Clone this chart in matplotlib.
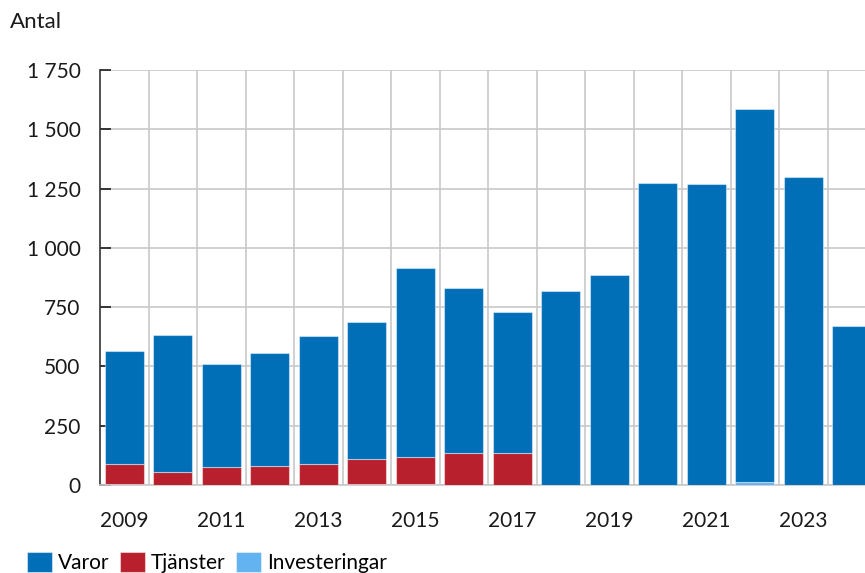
import numpy as np
import matplotlib as mpl
import matplotlib.pyplot as plt
from matplotlib.ticker import FuncFormatter, MultipleLocator

mpl.rcParams['font.family'] = ['Lato', 'DejaVu Sans']

years = list(range(2009, 2025))
varor = [476, 580, 433, 479, 539, 578, 798, 694, 593, 818, 886, 1272, 1270, 1573, 1297, 670]
tjanster = [86, 51, 77, 78, 89, 106, 114, 137, 137, 0, 0, 0, 0, 0, 0, 0]
investeringar = [3, 2, 0, 0, 0, 3, 3, 0, 0, 0, 0, 2, 0, 13, 2, 1]

c_var = '#006fb8'
c_tja = '#b8202d'
c_inv = '#62b3ef'

fig = plt.figure(figsize=(8.65, 5.73), dpi=100)
ax = fig.add_axes([0.1156, 0.1536, 0.8844, 0.7242])

x = np.arange(len(years))
inv = np.array(investeringar)
tja = np.array(tjanster)
var = np.array(varor)
ec = (1, 1, 1, 0.45)
ax.bar(x, inv, 0.8, color=c_inv, edgecolor=ec, linewidth=0.8, label='Investeringar', zorder=3)
ax.bar(x, tja, 0.8, bottom=inv, color=c_tja, edgecolor=ec, linewidth=0.8, label='Tjänster', zorder=3)
ax.bar(x, var, 0.8, bottom=inv + tja, color=c_var, edgecolor=ec, linewidth=0.8, label='Varor', zorder=3)

ax.set_xlim(-0.5, 15.27)
ax.set_ylim(0, 1750)
ax.yaxis.set_major_locator(MultipleLocator(250))
ax.yaxis.set_major_formatter(FuncFormatter(lambda v, p: f'{int(v):,}'.replace(',', ' ')))
ax.set_xticks(x[::2])
ax.set_xticklabels([str(y) for y in years[::2]])
ax.set_xticks(x[:-1] + 0.5, minor=True)

ax.grid(axis='y', which='major', color='#c8c8c8', linewidth=1.2, zorder=0)
ax.grid(axis='x', which='minor', color='#c8c8c8', linewidth=1.2, zorder=0)
ax.tick_params(axis='x', which='both', length=0, labelsize=15, pad=19, colors='#1a1a1a')
ax.tick_params(axis='y', direction='in', length=8, width=1.2, labelsize=15, pad=14, colors='#1a1a1a')

for s in ['top', 'right']:
    ax.spines[s].set_visible(False)
ax.spines['bottom'].set_color('#c8c8c8')
ax.spines['bottom'].set_linewidth(1.2)
ax.spines['left'].set_color('#333333')
ax.spines['left'].set_linewidth(1.2)

fig.text(0.012, 0.962, 'Antal', fontsize=16, va='center', ha='left', color='#1a1a1a')

h, l = ax.get_legend_handles_labels()
fig.legend(h[::-1], l[::-1], loc='center left', bbox_to_anchor=(0.031, 0.018), ncol=3,
           frameon=False, fontsize=15, handlelength=1.2, handleheight=1.1,
           handletextpad=0.3, columnspacing=0.5, borderaxespad=0, borderpad=0)

fig.savefig('out.png', dpi=100)
